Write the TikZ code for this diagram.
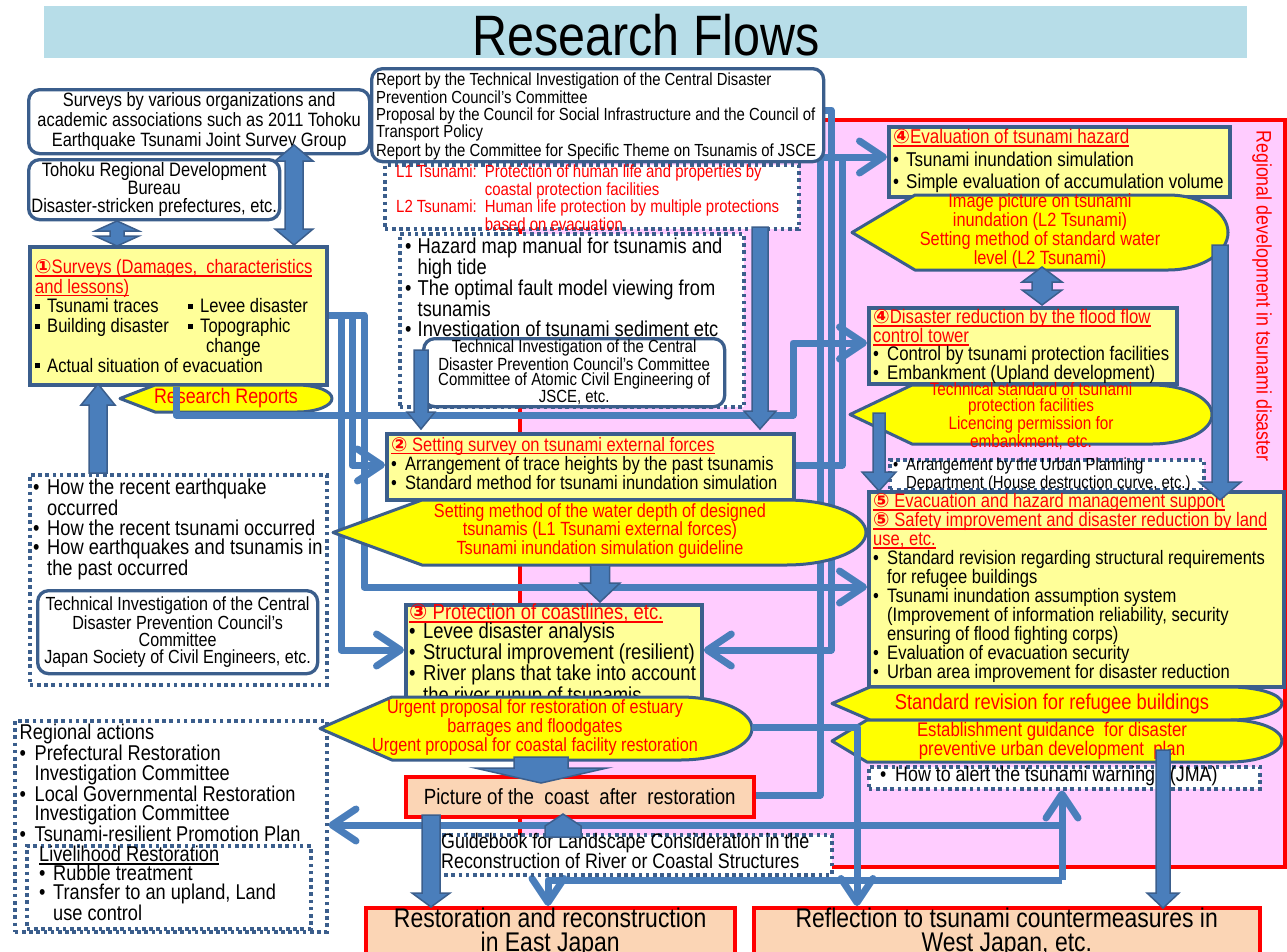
\documentclass[tikz,border=0pt]{standalone}
\usepackage{fontspec}
\setmainfont{Liberation Sans}[FakeStretch=0.85]
\newfontfamily\djv{DejaVu Sans}
\usetikzlibrary{arrows.meta}
\definecolor{cedge}{HTML}{3B5E8C}
\definecolor{cblue}{HTML}{4A7EBB}
\definecolor{cyel}{HTML}{FFFF99}
\definecolor{callyel}{HTML}{FFFF00}
\definecolor{corange}{HTML}{FBD5B5}
\definecolor{pinkbg}{HTML}{FFCCFF}
\definecolor{titlebg}{HTML}{B7DDE8}
\pgfdeclarelayer{bg}
\pgfdeclarelayer{back}
\pgfdeclarelayer{front}
\pgfsetlayers{bg,back,main,front}
\newcommand\fsz[2]{\fontsize{#1}{#2}\selectfont}
\newcommand\blt[1][14pt]{\makebox[#1][l]{•}}
\newcommand\hind[1][14pt]{\hspace*{#1}}
\newcommand\sqb{\makebox[12pt][l]{\rule[4pt]{5pt}{5pt}}}
\newcommand\circnum[1]{{\djv\bfseries #1}}
% underline with a thicker rule in the current colour
\newsavebox\undlbox
\newcommand\undl[1]{\leavevmode\sbox\undlbox{#1}\rlap{\rule[-3.2pt]{\wd\undlbox}{1.6pt}}\usebox\undlbox}
% display-shaped callout: x1 y1 x2 y2 shoulder arc-radius
\newcommand\dispshape[6]{\path[callshape] (#1,{(#2+#4)/2}) -- ({#1+#5},#2) -- ({#3-#6},#2)
  arc[start angle=-90,end angle=90,x radius=#6,y radius={(#4-#2)/2}] -- ({#1+#5},#4) -- cycle;}
% vertical block arrow: x, y start, y head base, y tip, shaft half width, head half width
\newcommand\fatv[6]{\path[fat] ({#1-#5},#2) -- ({#1-#5},#3) -- ({#1-#6},#3) -- (#1,#4)
  -- ({#1+#6},#3) -- ({#1+#5},#3) -- ({#1+#5},#2) -- cycle;}
% vertical double block arrow: x, top tip, bottom tip, head length, shaft half width, head half width
\newcommand\fatdbl[6]{\path[fat] (#1,#2) -- ({#1+#6},{#2+#4}) -- ({#1+#5},{#2+#4}) -- ({#1+#5},{#3-#4})
  -- ({#1+#6},{#3-#4}) -- (#1,#3) -- ({#1-#6},{#3-#4}) -- ({#1-#5},{#3-#4}) -- ({#1-#5},{#2+#4})
  -- ({#1-#6},{#2+#4}) -- cycle;}
\tikzset{
  at box/.style n args={4}{anchor=north west, at={(#1,#2)}, minimum width={#3-#1},
    minimum height={#4-#2}, inner sep=0pt},
  rbox/.style={draw=cedge, line width=3.3pt, fill=white, rounded corners=11pt, align=center},
  ybox/.style={draw=cedge, line width=3.8pt, fill=cyel},
  dbox/.style={draw=cedge, line width=3.5pt, dash pattern=on 3.6pt off 3.6pt, fill=white},
  obox/.style={draw=red, line width=3.5pt, fill=corange, align=center},
  txt/.style={inner sep=0pt, anchor=north west, align=left},
  ctxt/.style={inner sep=0pt, align=center, text=red},
  callshape/.style={draw=cedge, line width=3pt, fill=callyel, line join=round},
  conn/.style={draw=cblue, line width=7pt, line join=round},
  arr/.style={-{Straight Barb[length=24pt,width=32pt,round]}},
  fat/.style={fill=cblue, draw=cedge, line width=1.5pt},
}
\begin{document}
\begin{tikzpicture}[x=1pt,y=-1pt]
\useasboundingbox (0,0) rectangle (1287,951);
\begin{pgfonlayer}{bg}
\fill[white] (0,0) rectangle (1287,951);
\path[fill=pinkbg, draw=red, line width=3.5pt] (520,120) rectangle (1285,867);
\end{pgfonlayer}

% title banner
\node[fill=titlebg, at box={44}{6}{1247}{58}] (banner) {};
\node[anchor=base, inner sep=0pt, font=\fsz{57}{57}] (title) at (646,55) {Research Flows};
\node[rotate=-90, text=red, inner sep=0pt, font=\fsz{21}{20}] (side) at (1262,296)
  {Regional development in tsunami disaster};

% left column
\node[rbox, at box={27}{88}{368}{152}, font=\fsz{19.3}{20}] (orgs)
  {Surveys by various organizations and\\academic associations such as 2011 Tohoku\\Earthquake Tsunami Joint Survey Group};
\node[rbox, at box={27}{158}{278}{218}, font=\fsz{19.4}{18}] (tohoku)
  {Tohoku Regional Development\\Bureau\\Disaster-stricken prefectures, etc.};
\node[ybox, at box={28}{245}{325}{383}] (surv) {};
\node[txt, font=\fsz{19.5}{19}] (surv-t) at (35,259) {%
  \begin{tabular}{@{}l@{}l@{}}
  \multicolumn{2}{@{}l@{}}{\color{red}\undl{\circnum{①}Surveys (Damages,\ \ characteristics}}\\
  \multicolumn{2}{@{}l@{}}{\color{red}\undl{and lessons)}}\\
  \makebox[153pt][l]{\sqb Tsunami traces} & \sqb Levee disaster\\
  \sqb Building disaster & \sqb Topographic\\
   & \hspace{18pt}change\\
  \multicolumn{2}{@{}l@{}}{\sqb Actual situation of evacuation}
  \end{tabular}};
\dispshape{120}{385}{332}{412}{35}{35}
\node[ctxt, font=\fsz{21}{21}] (rr) at (226,398.5) {Research Reports};

\node[dbox, at box={28}{473}{325}{683}] (how) {};
\node[txt, font=\fsz{21.5}{19.5}] (how-t) at (33,479) {%
  \blt How the recent earthquake\\\hind occurred\\
  \blt How the recent tsunami occurred\\
  \blt How earthquakes and tsunamis in\\\hind the past occurred};
\node[rbox, at box={36}{589}{316}{672}, font=\fsz{19}{17}] (tech1)
  {Technical Investigation of the Central\\Disaster Prevention Council's\\Committee\\Japan Society of Civil Engineers, etc.};

\node[dbox, at box={13}{719}{325}{930}] (regional) {};
\node[txt, font=\fsz{21.4}{19.6}] (reg-t) at (19.5,724) {%
  Regional actions\\
  \blt[15pt]Prefectural Restoration\\\hind[15pt]Investigation Committee\\
  \blt[15pt]Local Governmental Restoration\\\hind[15pt]Investigation Committee\\
  \blt[15pt]Tsunami-resilient Promotion Plan};
\node[dbox, at box={25}{844}{309}{927}] (live) {};
\node[txt, font=\fsz{21.4}{19}] (live-t) at (39,846) {%
  \undl{Livelihood Restoration}\\
  \blt Rubble treatment\\
  \blt Transfer to an upland, Land\\\hind use control};

% centre column
\node[rbox, at box={370}{67}{822}{160}] (report) {};
\node[txt, font=\fsz{17.5}{15}] (report-t) at (376,73) {%
  Report by the Technical Investigation of the Central Disaster\\Prevention Council's Committee\\[2pt]
  Proposal by the Council for Social Infrastructure and the Council of\\Transport Policy\\[2pt]
  Report by the Committee for Specific Theme on Tsunamis of JSCE};
\node[dbox, at box={383}{163}{797}{227}] (l1l2) {};
\node[txt, text=red, font=\fsz{17.6}{15.7}] (l1l2-t) at (396,165) {%
  \begin{tabular}{@{}l@{\hspace{8pt}}l@{}}
  L1 Tsunami: & Protection of human life and properties by\\
   & coastal protection facilities\\
  L2 Tsunami: & Human life protection by multiple protections\\
   & based on evacuation
  \end{tabular}};
\node[dbox, at box={398}{232}{742}{405}] (hazard) {};
\node[txt, font=\fsz{21.5}{19.7}] (haz-t) at (405,238) {%
  \blt[12.5pt]Hazard map manual for tsunamis and\\\hind[12.5pt]high tide\\
  \blt[12.5pt]The optimal fault model viewing from\\\hind[12.5pt]tsunamis\\
  \blt[12.5pt]Investigation of tsunami sediment etc};
\node[rbox, at box={422}{337}{723}{405}, font=\fsz{17.6}{15.7}] (tech2)
  {Technical Investigation of the Central\\Disaster Prevention Council's Committee\\Committee of Atomic Civil Engineering of\\JSCE, etc.};

\node[ybox, at box={385}{432}{792}{498}] (setbox) {};
\node[txt, font=\fsz{19.4}{17.5}] (set-t) at (391,437) {%
  {\color{red}\undl{\circnum{②} Setting survey on tsunami external forces}}\\
  \blt Arrangement of trace heights by the past tsunamis\\
  \blt Standard method for tsunami inundation simulation};
\dispshape{333}{500}{866}{565}{89}{80}
\node[ctxt, font=\fsz{19.1}{17.5}] (set-c) at (600,531)
  {Setting method of the water depth of designed\\tsunamis (L1 Tsunami external forces)\\Tsunami inundation simulation guideline};

\node[ybox, at box={404}{603}{700}{697}] (prot) {};
\node[txt, font=\fsz{21.7}{19}] (prot-t) at (409,603.5) {%
  {\color{red}\undl{\circnum{③} Protection of coastlines, etc.}}\\
  \blt Levee disaster analysis\\
  \blt Structural improvement (resilient)\\
  \blt River plans that take into account\\\hind the river runup of tsunamis};
\dispshape{320}{697}{752}{760}{72}{72}
\coordinate (protc-e) at (752,727);
\node[ctxt, font=\fsz{19.1}{17.5}] (prot-c) at (535,727.5)
  {Urgent proposal for restoration of estuary\\barrages and floodgates\\Urgent proposal for coastal facility restoration};

\node[obox, at box={404}{775}{752}{815}, font=\fsz{22}{22}] (coast)
  {Picture of the\ \ coast\ \ after\ \ restoration};
\node[dbox, at box={428}{833}{830}{873}] (guide) {};
\node[txt, font=\fsz{21}{20}] (guide-t) at (441,833) {%
  Guidebook for Landscape Consideration in the\\Reconstruction of River or Coastal Structures};
\node[obox, at box={364}{906}{733}{954}, font=\fsz{27}{24}] (restore)
  {Restoration and reconstruction\\in East Japan\\[-3pt]};
\node[obox, at box={752}{906}{1258}{954}, font=\fsz{27}{24}] (reflect)
  {Reflection to tsunami countermeasures in\\West Japan, etc.\\[-3pt]};

% right column
\node[ybox, at box={887}{125}{1228}{195}] (eval) {};
\node[txt, font=\fsz{20}{22}] (eval-t) at (893,129) {%
  {\color{red}\undl{\circnum{④}Evaluation of tsunami hazard}}\\[1pt]
  \blt[13pt]Tsunami inundation simulation\\
  \blt[13pt]Simple evaluation of accumulation volume};
\dispshape{852}{195}{1228}{270}{63}{60}
\node[ctxt, font=\fsz{19.2}{17.2}] (eval-c) at (1040,231)
  {Image picture on tsunami\\inundation (L2 Tsunami)\\Setting method of standard water\\level (L2 Tsunami)};

\node[ybox, at box={867}{306}{1175}{382}] (dis) {};
\node[txt, font=\fsz{19.7}{17.6}] (dis-t) at (873,309) {%
  {\color{red}\undl{\circnum{④}Disaster reduction by the flood flow}}\\
  {\color{red}\undl{control tower}}\\
  \blt Control by tsunami protection facilities\\
  \blt Embankment (Upland development)};
\dispshape{850}{385}{1212}{444}{62}{60}
\node[ctxt, font=\fsz{18}{15.7}] (dis-c) at (1031,416)
  {Technical standard of tsunami\\protection facilities\\Licencing permission for\\embankment, etc.};

\node[dbox, at box={888}{458}{1202}{488}] (urban) {};
\node[txt, font=\fsz{17.5}{15}] (urban-t) at (893,458) {%
  \blt[13pt]Arrangement by the Urban Planning\\\hind[13pt]Department (House destruction curve, etc.)};

\node[ybox, at box={867}{490}{1282}{685}] (five) {};
\node[txt, font=\fsz{19.5}{19}] (five-t) at (873,493.5) {%
  {\color{red}\undl{\circnum{⑤} Evacuation and hazard management support}}\\
  {\color{red}\undl{\circnum{⑤} Safety improvement and disaster reduction by land}}\\
  {\color{red}\undl{use, etc.}}\\
  \blt Standard revision regarding structural requirements\\
  \hind for refugee buildings\\
  \blt Tsunami inundation assumption system\\
  \hind (Improvement of information reliability, security\\
  \hind ensuring of flood fighting corps)\\
  \blt Evaluation of evacuation security\\
  \blt Urban area improvement for disaster reduction};
\dispshape{832}{687}{1282}{720}{38}{52}
\node[ctxt, font=\fsz{21.6}{20}] (sr-c) at (1052,703.5) {Standard revision for refugee buildings};
\dispshape{832}{720}{1282}{762}{35}{52}
\node[ctxt, font=\fsz{19.7}{19}] (est-c) at (1052,741)
  {Establishment guidance\ \ for disaster\\preventive urban development\ \ plan};
\node[dbox, at box={867}{765}{1258}{787}] (jma) {};
\node[inner sep=0pt, anchor=west, font=\fsz{21}{21}] (jma-t) at (880,776)
  {\blt[15pt]How to alert the tsunami warning\ \ \ (JMA)};

% connectors running beneath the boxes
\begin{pgfonlayer}{back}
\draw[conn,arr] (surv.east |- 0,315) -- (364,315) -- (364,587) -- (five.west |- 0,587);
\draw[conn,arr] (surv.east |- 0,315) -- (352,315) -- (352,465) -- (setbox.west |- 0,465);
\draw[conn,arr] (surv.east |- 0,315) -- (341,315) -- (341,650) -- (prot.west |- 0,650);
\draw[conn,arr] (report.east |- 0,110) -- (831,110) -- (831,650) -- (prot.east |- 0,650);
\draw[conn,arr] (coast.east |- 0,795) -- (820,795) -- (820,157) -- (eval.west |- 0,157);
\draw[conn] (setbox.east |- 0,465) -- (842,465) -- (842,157);
\coordinate (loop) at (1062,880);
\draw[conn,arr] (1062,825) -- (regional.east |- 0,825);
\draw[conn,arr] (loop) -- (548,880) -- (restore.north -| 548,0);
\draw[conn,arr] (loop) -- (jma.south -| 1062,0);
\end{pgfonlayer}

% connectors drawn over the shapes
\draw[conn,arr] (surv.south -| 176,0) -- (176,415) -- (793,415) -- (793,343) -- (dis.west |- 0,343);
\draw[conn,arr] (protc-e) -- (857,727) -- (reflect.north -| 857,0);

% block arrows
\begin{pgfonlayer}{front}
\fatdbl{117}{221}{246}{10}{7}{22}
\fatdbl{294}{145}{245}{16}{9}{19}
\fatv{98}{473}{405}{384}{9}{17}
\fatv{421}{350}{412}{429}{7}{14}
\fatv{760}{227}{411}{429}{8}{16}
\fatv{600}{565}{583}{602}{9.5}{20}
\fatv{541}{757}{768}{783}{27}{66}
\fatv{431}{815}{893}{907}{9}{19}
\fatv{563}{837}{826}{814}{18}{18}
\fatdbl{1042}{267}{305}{15}{10}{20}
\fatv{1220}{245}{482}{500}{8}{21}
\fatv{879}{413}{472}{491}{6}{17}
\fatv{1163}{750}{893}{908}{7}{16}
\end{pgfonlayer}
\end{tikzpicture}
\end{document}
